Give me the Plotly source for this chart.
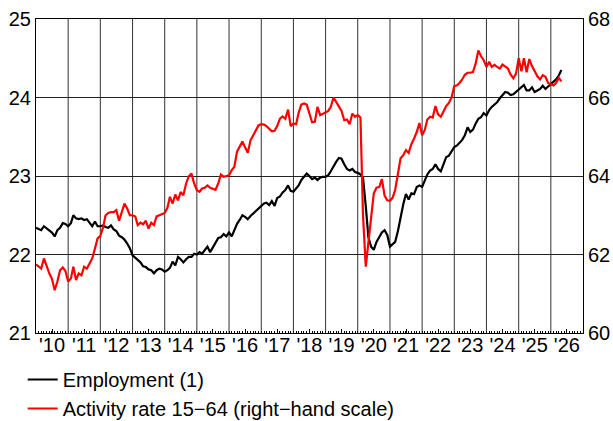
import pandas as pd
import plotly.graph_objects as go

# ---- data (monthly, from Jan 2010) ----
start_month = "2010-01-01"
n_months = 197
employment = [
    22.34, 22.32, 22.31, 22.36, 22.33, 22.30, 22.28, 22.23, 22.31, 22.34, 22.40, 22.39,
    22.36, 22.40, 22.50, 22.46, 22.45, 22.46, 22.44, 22.45, 22.40, 22.36, 22.42, 22.36,
    22.36, 22.37, 22.35, 22.34, 22.37, 22.32, 22.30, 22.24, 22.22, 22.19, 22.14, 22.08,
    21.99, 21.96, 21.93, 21.90, 21.85, 21.84, 21.81, 21.80, 21.76, 21.80, 21.82, 21.81,
    21.78, 21.80, 21.83, 21.91, 21.86, 21.97, 21.94, 21.90, 21.94, 21.97, 21.97, 22.01,
    22.00, 22.03, 22.01, 22.06, 22.10, 22.03, 22.09, 22.16, 22.21, 22.22, 22.26, 22.23,
    22.28, 22.23, 22.32, 22.39, 22.44, 22.50, 22.48, 22.45, 22.49, 22.52, 22.55, 22.58,
    22.61, 22.65, 22.66, 22.63, 22.68, 22.62, 22.72, 22.74, 22.79, 22.82, 22.88, 22.81,
    22.80, 22.84, 22.88, 22.95, 22.99, 23.03, 23.00, 22.96, 22.98, 22.95, 22.98, 22.99,
    22.99, 23.01, 23.06, 23.13, 23.18, 23.23, 23.22, 23.15, 23.09, 23.07, 23.09, 23.05,
    23.04, 23.02, 22.98, 22.62, 22.22, 22.10, 22.06, 22.16, 22.23, 22.28, 22.31, 22.25,
    22.10, 22.13, 22.16, 22.30, 22.48, 22.64, 22.77, 22.70, 22.78, 22.77, 22.86, 22.88,
    22.86, 22.94, 23.02, 23.07, 23.09, 23.15, 23.09, 23.06, 23.15, 23.24, 23.26, 23.31,
    23.37, 23.39, 23.42, 23.46, 23.52, 23.62, 23.56, 23.59, 23.67, 23.73, 23.75, 23.80,
    23.77, 23.84, 23.88, 23.91, 23.94, 23.99, 24.03, 24.07, 24.06, 24.03, 24.04, 24.07,
    24.09, 24.12, 24.16, 24.09, 24.09, 24.13, 24.07, 24.09, 24.11, 24.15, 24.11, 24.14,
    24.17, 24.20, 24.23, 24.28, 24.35,
]
activity_rate = [
    61.75, 61.69, 61.64, 61.90, 61.70, 61.52, 61.38, 61.09, 61.31, 61.60, 61.67, 61.58,
    61.31, 61.39, 61.69, 61.35, 61.52, 61.47, 61.69, 61.64, 61.77, 61.90, 62.15, 62.41,
    62.47, 62.69, 63.00, 63.06, 63.08, 63.08, 63.13, 62.86, 63.08, 63.30, 63.17, 63.00,
    63.00, 62.97, 62.75, 62.81, 62.77, 62.86, 62.66, 62.81, 62.75, 62.97, 63.00, 63.02,
    63.06, 63.19, 63.47, 63.30, 63.53, 63.38, 63.59, 63.51, 63.81, 63.99, 64.06, 63.81,
    63.64, 63.60, 63.68, 63.70, 63.76, 63.70, 63.68, 63.65, 63.81, 64.04, 63.98, 64.00,
    64.02, 64.15, 64.23, 64.62, 64.76, 64.88, 64.73, 64.59, 64.91, 65.04, 65.18, 65.29,
    65.32, 65.31, 65.27, 65.20, 65.14, 65.15, 65.27, 65.46, 65.52, 65.46, 65.69, 65.27,
    65.34, 65.32, 65.61, 65.82, 65.85, 65.82, 65.59, 65.37, 65.38, 65.76, 65.55, 65.59,
    65.61, 65.66, 65.76, 66.00, 65.89, 65.76, 65.66, 65.42, 65.44, 65.32, 65.59, 65.51,
    65.55, 65.49, 63.00, 61.69, 62.30, 63.00, 63.55, 63.70, 63.72, 63.92, 63.50, 63.38,
    63.37, 63.45, 63.65, 64.05, 64.45, 64.53, 64.66, 64.59, 64.81, 64.95, 65.12, 65.35,
    65.04, 65.18, 65.44, 65.51, 65.49, 65.78, 65.57, 65.51, 65.63, 65.78, 65.86, 66.00,
    66.29, 66.31, 66.37, 66.46, 66.58, 66.63, 66.63, 66.65, 66.87, 67.20, 67.05, 66.95,
    66.78, 66.91, 66.78, 66.83, 66.78, 66.74, 66.84, 66.80, 66.74, 66.59, 66.49, 66.60,
    67.00, 66.67, 67.00, 66.64, 66.98, 66.80, 66.65, 66.54, 66.46, 66.57, 66.53, 66.37,
    66.34, 66.31, 66.37, 66.50, 66.41,
]
years = list(range(2010, 2027))
year_labels = ["'" + str(y)[2:] for y in years]
left_ticks = [21, 22, 23, 24, 25]
right_ticks = [60, 62, 64, 66, 68]

dates = pd.date_range(start_month, periods=n_months, freq="MS")

FONT = "Liberation Sans, Arial, sans-serif"

fig = go.Figure()
fig.add_trace(go.Scatter(x=dates, y=employment, name="Employment (1)", mode="lines",
                         line=dict(color="black", width=2.2), yaxis="y"))
fig.add_trace(go.Scatter(x=dates, y=activity_rate, name="Activity rate 15\u221264 (right\u2212hand scale)",
                         mode="lines", line=dict(color="#ff0000", width=2.2), yaxis="y2"))

shapes = []
for y in years[1:]:
    shapes.append(dict(type="line", xref="x", yref="paper", x0=f"{y}-01-01", x1=f"{y}-01-01",
                       y0=0, y1=1, line=dict(color="#333333", width=1), layer="below"))

fig.update_layout(
    width=613, height=421,
    margin=dict(l=36, r=30, t=19, b=88, autoexpand=False),
    paper_bgcolor="white", plot_bgcolor="white",
    font=dict(family=FONT, size=20, color="black"),
    showlegend=True,
    legend=dict(xref="container", yref="container", x=0.037, y=1 - 360 / 421,
                xanchor="left", yanchor="top", orientation="v",
                font=dict(size=20), bgcolor="rgba(0,0,0,0)", itemwidth=30,
                traceorder="normal"),
    shapes=shapes,
    xaxis=dict(
        type="date", range=["2010-01-01", "2027-01-01"],
        tickvals=[f"{y}-07-02" for y in years], ticktext=year_labels,
        ticks="inside", ticklen=4, tickcolor="black", tickwidth=1,
        minor=dict(ticks="inside", ticklen=2, dtick="M1", tick0="2010-01-01",
                   tickcolor="black", tickwidth=1, showgrid=False),
        showgrid=False, zeroline=False,
        showline=True, linecolor="black", linewidth=1, mirror=True,
        tickfont=dict(size=20), automargin=False, ticklabelstandoff=-6,
    ),
    yaxis=dict(
        range=[21, 25], tickvals=left_ticks, ticks="", showgrid=True,
        gridcolor="#222222", gridwidth=1, zeroline=False,
        showline=True, linecolor="black", linewidth=1,
        tickfont=dict(size=20), automargin=False,
    ),
    yaxis2=dict(
        range=[60, 68], tickvals=right_ticks, ticks="", overlaying="y", side="right",
        showgrid=False, zeroline=False, showline=True, linecolor="black", linewidth=1,
        tickfont=dict(size=20), automargin=False,
    ),
)

fig.write_html("out.html", config={"displayModeBar": False},
               post_script="document.body.style.margin='0';document.body.style.overflow='hidden';")
